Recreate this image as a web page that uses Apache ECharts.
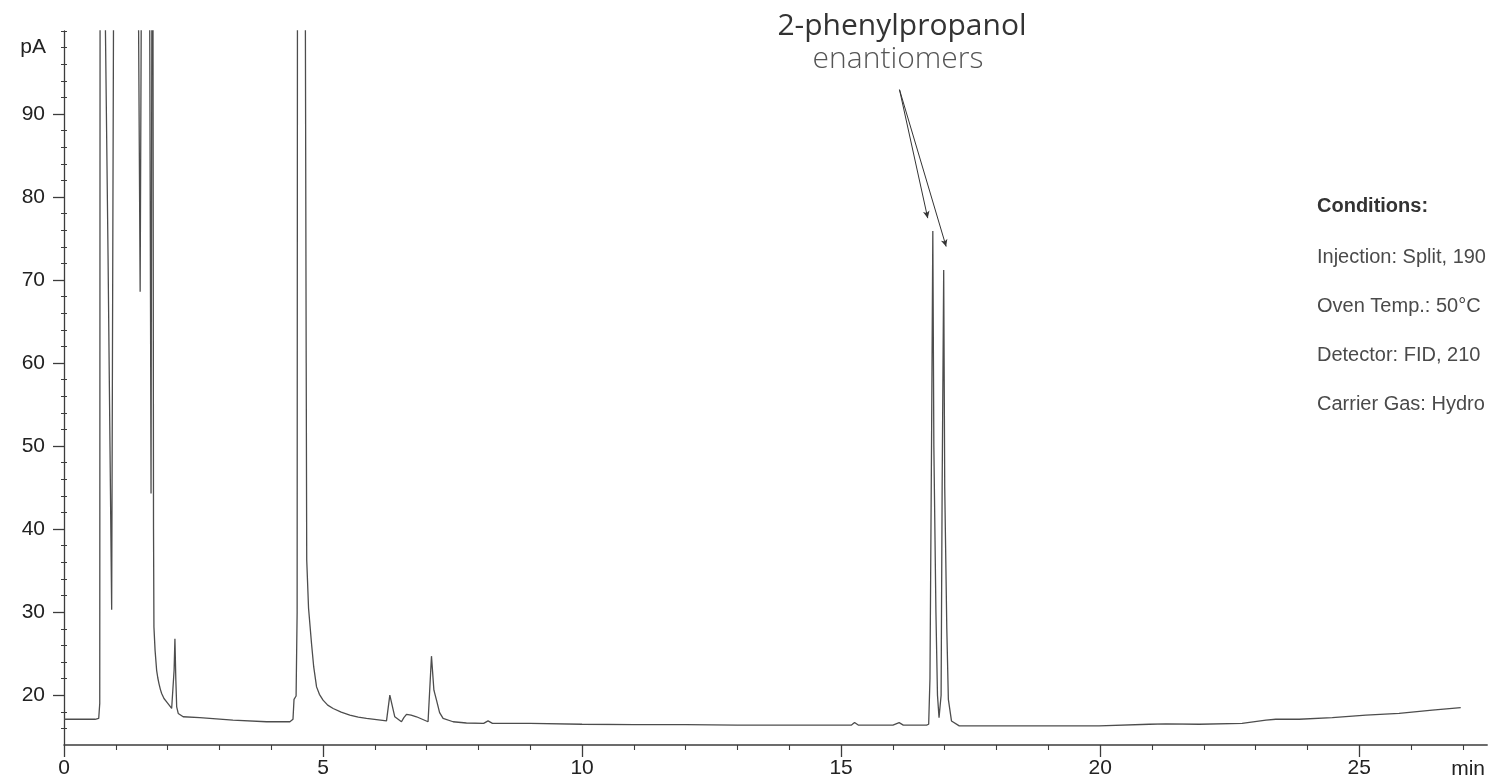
<!DOCTYPE html>
<html>
<head>
<meta charset="utf-8">
<script src="https://cdn.jsdelivr.net/npm/echarts@6/dist/echarts.min.js"></script>
<style>
html,body{margin:0;padding:0;background:#ffffff;}
#chart{width:1488px;height:781px;}
</style>
</head>
<body>
<div id="chart"></div>
<script>
// Retention time (min)
const times = [
  0, 0.60, 0.67, 0.69, 0.70, 0.78, 0.80, 0.85, 0.92, 0.935, 0.955, 0.97,
  1.40, 1.44, 1.47, 1.49, 1.52, 1.62, 1.655, 1.68, 1.695, 1.71, 1.72, 1.728,
  1.736, 1.758, 1.788, 1.81, 1.833, 1.86, 1.885, 1.93, 1.981, 2.03, 2.078, 2.10, 2.125, 2.141, 2.158,
  2.175, 2.205, 2.30, 2.62, 3.26, 3.91, 4.36, 4.42, 4.44, 4.48, 4.50, 4.51,
  4.64, 4.675, 4.685, 4.72, 4.778, 4.82, 4.875, 4.93, 5.0, 5.09, 5.195, 5.35, 5.517, 5.68, 5.839, 6.225, 6.289,
  6.385, 6.514, 6.56, 6.611, 6.70, 6.804, 7.027, 7.093, 7.14, 7.19, 7.25, 7.317, 7.51, 7.768, 8.10,
  8.185, 8.27, 8.41, 9.0, 10.0, 11.0, 12.0, 13.0, 14.0, 15.0, 15.2, 15.26,
  15.33, 16.0, 16.12, 16.2, 16.65, 16.69, 16.715, 16.745, 16.77, 16.79, 16.83,
  16.86, 16.89, 16.93, 16.95, 16.98, 17.0, 17.04, 17.07, 17.13, 17.28, 18.06,
  19.98, 20.95, 21.27, 21.91, 22.74, 23.2, 23.39, 23.84, 24.48, 25.13, 25.77,
  26.41, 26.96
];
// Detector signal (pA); 150 = off-scale peak
const signal = [
  17.1, 17.1, 17.2, 19, 150, 150, 100, 73, 30.3, 60, 100, 150,
  150, 100, 68.6, 100, 150, 150, 100, 44.3, 100, 150, 150, 40,
  28.2, 25.4, 23.0, 22.1, 21.4, 20.7, 20.2, 19.6, 19.2, 18.8, 18.4, 18.5, 23, 26.8, 22,
  18.6, 17.8, 17.4, 17.3, 17.0, 16.8, 16.8, 17.1, 19.5, 19.9, 30, 150,
  150, 60, 36.3, 30.5, 26.2, 23.4, 21.0, 20.1, 19.4, 18.8, 18.4, 17.95, 17.6, 17.35, 17.2, 16.9, 20.0,
  17.4, 16.8, 17.3, 17.7, 17.6, 17.4, 16.8, 24.7, 20.6, 19.4, 17.9, 17.2, 16.8, 16.65, 16.6,
  16.9, 16.6, 16.6, 16.6, 16.5, 16.45, 16.45, 16.4, 16.4, 16.4, 16.4, 16.7,
  16.4, 16.4, 16.7, 16.4, 16.4, 16.5, 22, 50, 75.9, 50, 30,
  20, 17.3, 20, 45, 71.2, 45, 28, 19.5, 16.9, 16.3, 16.3,
  16.3, 16.5, 16.55, 16.5, 16.6, 17.0, 17.1, 17.1, 17.3, 17.6, 17.8,
  18.2, 18.5
];

const yLabelValues = [20, 30, 40, 50, 60, 70, 80, 90];
const yMinorValues = [16, 18, 22, 24, 26, 28, 32, 34, 36, 38, 42, 44, 46, 48, 52, 54, 56, 58,
  62, 64, 66, 68, 72, 74, 76, 78, 82, 84, 86, 88, 92, 94, 96, 98, 100];
const xLabelValues = [0, 5, 10, 15, 20, 25];
const xMinorValues = [1, 2, 3, 4, 6, 7, 8, 9, 11, 12, 13, 14, 16, 17, 18, 19, 21, 22, 23, 24, 26, 27];

const annotationTitle = '2-phenylpropanol';
const annotationSub = 'enantiomers';
const arrowStart = [16.127, 92.93];
const arrowEnds = [[16.672, 77.46], [17.027, 74.04]];

const conditionsHeader = 'Conditions:';
const conditionsLines = [
  'Injection: Split, 190',
  'Oven Temp.: 50°C',
  'Detector: FID, 210',
  'Carrier Gas: Hydro'
];

const FONT = '"Liberation Sans", Arial, Helvetica, sans-serif';
const AXIS_COLOR = '#3c3c3c';
const X_MIN = 0, X_MAX = 27.47, Y_MIN = 14, Y_MAX = 100;

const chart = echarts.init(document.getElementById('chart'), null, {renderer: 'canvas'});

const graphics = [
  {type: 'text', x: 902, y: 26, style: {text: annotationTitle, fontSize: 30, fontFamily: '"Open Sans", ' + FONT, fill: '#333333', align: 'center', verticalAlign: 'middle'}},
  {type: 'text', x: 898, y: 59, style: {text: annotationSub, fontSize: 30, fontWeight: 300, fontFamily: '"Open Sans", ' + FONT, fill: '#555555', align: 'center', verticalAlign: 'middle'}},
  {type: 'text', x: 1317, y: 206, style: {text: conditionsHeader, fontSize: 20, fontWeight: 'bold', fontFamily: FONT, fill: '#333333', align: 'left', verticalAlign: 'middle'}}
];
conditionsLines.forEach((t, i) => {
  graphics.push({type: 'text', x: 1317, y: 257 + i * 49.3, style: {text: t, fontSize: 20, fontFamily: FONT, fill: '#4a4a4a', align: 'left', verticalAlign: 'middle'}});
});

const option = {
  backgroundColor: '#ffffff',
  animation: false,
  grid: {left: 64, right: 0, top: 31, bottom: 36, containLabel: false},
  xAxis: [
    {
      type: 'value', min: X_MIN, max: X_MAX,
      axisLine: {show: true, onZero: false, lineStyle: {color: AXIS_COLOR, width: 1.5}},
      axisTick: {show: true, customValues: xLabelValues, length: 12, lineStyle: {color: AXIS_COLOR, width: 1.3}},
      axisLabel: {customValues: xLabelValues, fontSize: 21, color: '#222222', margin: 13, fontFamily: FONT},
      splitLine: {show: false},
      name: 'min', nameLocation: 'end', nameGap: -36,
      nameTextStyle: {fontSize: 21, color: '#222222', fontFamily: FONT, align: 'left', verticalAlign: 'top', padding: [14, 0, 0, 0]}
    },
    {
      type: 'value', min: X_MIN, max: X_MAX, position: 'bottom',
      axisLine: {show: false, onZero: false},
      axisTick: {show: true, customValues: xMinorValues, length: 5, lineStyle: {color: AXIS_COLOR, width: 1.1}},
      axisLabel: {show: false}, splitLine: {show: false}
    }
  ],
  yAxis: [
    {
      type: 'value', min: Y_MIN, max: Y_MAX,
      axisLine: {show: true, onZero: false, lineStyle: {color: AXIS_COLOR, width: 1.3}},
      axisTick: {show: true, customValues: yLabelValues, length: 11, lineStyle: {color: AXIS_COLOR, width: 1.3}},
      axisLabel: {customValues: yLabelValues, fontSize: 21, color: '#222222', margin: 19, fontFamily: FONT},
      splitLine: {show: false},
      name: 'pA', nameLocation: 'end', nameGap: -16,
      nameTextStyle: {fontSize: 21, color: '#222222', fontFamily: FONT, align: 'right', verticalAlign: 'middle', padding: [0, 18, 0, 0]}
    },
    {
      type: 'value', min: Y_MIN, max: Y_MAX, position: 'left',
      axisLine: {show: false, onZero: false},
      axisTick: {show: true, customValues: yMinorValues, length: 3, lineStyle: {color: AXIS_COLOR, width: 1}},
      axisLabel: {show: false}, splitLine: {show: false}
    },
    {
      type: 'value', min: Y_MIN, max: Y_MAX, position: 'left',
      axisLine: {show: false, onZero: false},
      axisTick: {show: true, inside: true, customValues: yMinorValues, length: 3, lineStyle: {color: AXIS_COLOR, width: 1}},
      axisLabel: {show: false}, splitLine: {show: false}
    }
  ],
  series: [
    {
      type: 'line',
      xAxisIndex: 0, yAxisIndex: 0,
      data: times.map((t, i) => [t, signal[i]]),
      showSymbol: false, symbol: 'none',
      clip: true,
      lineStyle: {color: '#4d4d4d', width: 1.3},
      markLine: {
        silent: true,
        symbol: ['none', 'arrow'],
        symbolSize: [5, 7],
        label: {show: false},
        lineStyle: {color: '#333333', width: 1, type: 'solid'},
        data: arrowEnds.map(e => [{coord: arrowStart}, {coord: e}])
      }
    }
  ],
  graphic: graphics
};
chart.setOption(option);
</script>
</body>
</html>
